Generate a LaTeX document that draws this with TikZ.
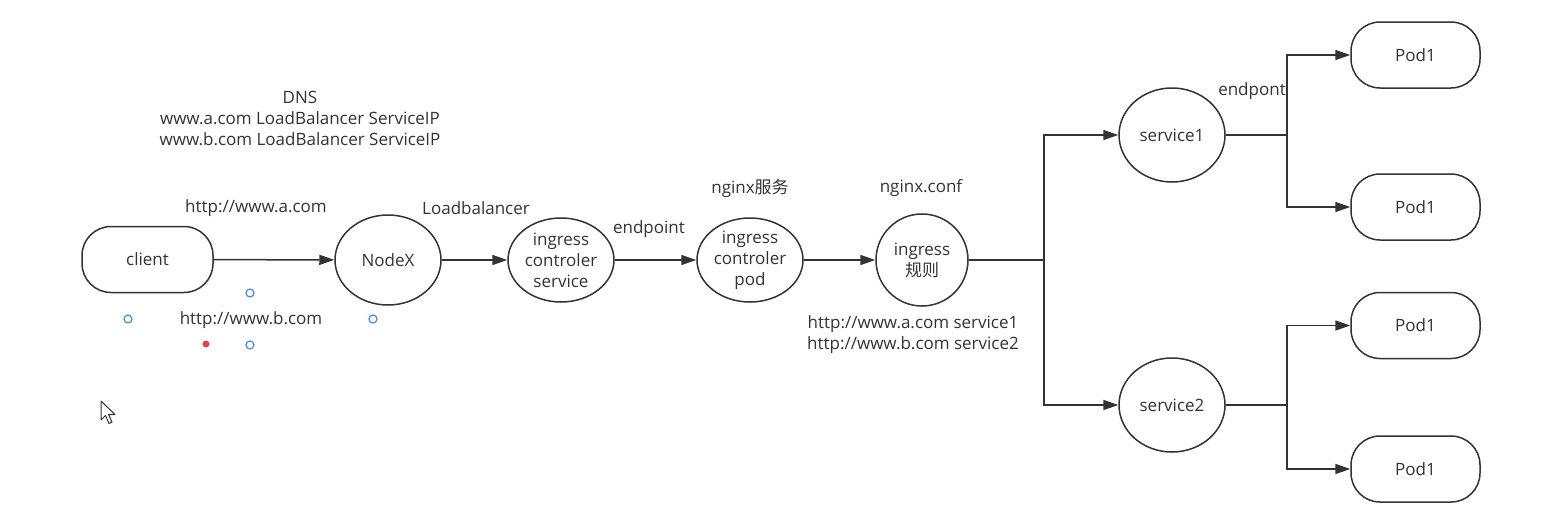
\documentclass[tikz,border=0pt]{standalone}
\usepackage{fontspec}
\setmainfont{Open Sans}
\newfontfamily\cjk{Noto Sans CJK SC}
\usetikzlibrary{shapes.geometric,arrows.meta}
\definecolor{ink}{HTML}{333333}
\definecolor{handle}{HTML}{3D8DF5}
\definecolor{reddot}{HTML}{E0454C}
\tikzset{
  base/.style={draw=ink, line width=1.5pt, text=ink, font=\fontsize{17}{21}\selectfont, align=center, inner sep=0pt},
  oval/.style={base, ellipse, minimum width=106pt, minimum height=84pt},
  pill/.style={base, rounded corners=29pt, minimum width=131pt, minimum height=66pt},
  lbl/.style={text=ink, font=\fontsize{17}{21}\selectfont, align=center, inner sep=0pt},
  conn/.style={draw=ink, line width=1.5pt, -{Triangle[length=15pt,width=10pt]}},
  wire/.style={draw=ink, line width=1.5pt},
  hnd/.style={draw=handle, line width=1.2pt, fill=white, circle, minimum size=8pt, inner sep=0pt}
}
\begin{document}
\begin{tikzpicture}[x=1pt,y=-1pt]
\useasboundingbox (0,0) rectangle (1549,522);
\node[pill] (client) at (147.5,259.5) {client};
\node[oval, minimum width=106pt, minimum height=90pt] (nodex) at (388,260) {NodeX};
\node[oval] (ics) at (561,260) {ingress\\controler\\service};
\node[oval] (icp) at (750,260) {ingress\\controler\\pod};
\node[oval, minimum width=92pt, minimum height=92pt] (rule) at (922,260) {ingress\\{\cjk 规则}};
\node[oval, minimum height=94pt] (s1) at (1172,135) {service1};
\node[oval, minimum height=94pt] (s2) at (1172,405) {service2};
\node[pill, minimum width=129pt] (p1) at (1415.5,55) {Pod1};
\node[pill, minimum width=129pt] (p2) at (1415.5,207) {Pod1};
\node[pill, minimum width=129pt] (p3) at (1415.5,325.5) {Pod1};
\node[pill, minimum width=129pt] (p4) at (1415.5,469) {Pod1};

\coordinate (j0) at (1044,260);
\coordinate (j1) at (1287,135);
\coordinate (j2) at (1287,405);

\draw[conn] (client) -- (nodex);
\draw[conn] (nodex) -- (ics);
\draw[conn] (ics) -- (icp);
\draw[conn] (icp) -- (rule);
\draw[wire] (rule) -- (j0);
\draw[conn] (j0) |- (s1);
\draw[conn] (j0) |- (s2);
\draw[wire] (s1) -- (j1);
\draw[conn] (j1) |- (p1);
\draw[conn] (j1) |- (p2);
\draw[wire] (s2) -- (j2);
\draw[conn] (j2) |- (p3);
\draw[conn] (j2) |- (p4);

\node[lbl] (dns) at (300,118) {DNS\\www.a.com LoadBalancer ServiceIP\\www.b.com LoadBalancer ServiceIP};
\node[lbl] (ha) at (256,208) {http://www.a.com};
\node[lbl] (hb) at (251,320) {http://www.b.com};
\node[lbl] (lb) at (476,208) {Loadbalancer};
\node[lbl] (ep) at (649,229) {endpoint};
\node[lbl] (ng) at (750,188) {nginx{\cjk 服务}};
\node[lbl] (nc) at (921,188) {nginx.conf};
\node[lbl] (rules) at (913,334.5) {http://www.a.com service1\\http://www.b.com service2};
\node[lbl] (ep2) at (1252,91) {endpont};

\node[hnd] (h1) at (250,293) {};
\node[hnd] (h2) at (128,319) {};
\node[hnd] (h3) at (373,319) {};
\node[hnd] (h4) at (250,345) {};
\node[circle, fill=reddot, minimum size=7pt, inner sep=0pt] (rd) at (206,344) {};

\draw[ink, line width=1pt, fill=white, line join=round]
  (101,401) -- (101,420) -- (105.5,415.5) -- (109,423.5) -- (112,422.2) -- (108.6,414.5) -- (115,414.5) -- cycle;
\end{tikzpicture}
\end{document}
